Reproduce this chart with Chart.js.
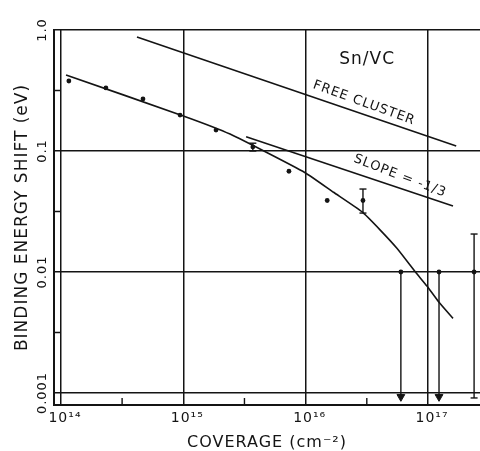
<!DOCTYPE html>
<html>
<head>
<meta charset="utf-8">
<script src="https://cdn.jsdelivr.net/npm/chart.js@4"></script>
<style>
  html, body { margin: 0; padding: 0; background: #fff; }
  #wrap { width: 480px; height: 451px; }
</style>
</head>
<body>
<div id="wrap"><canvas id="shiftChart"></canvas></div>
<script>
// measured points: coverage (cm^-2) vs binding energy shift (eV)
const coverage = [1.16e14, 2.33e14, 4.68e14, 9.4e14, 1.85e15, 3.7e15, 7.3e15, 1.5e16, 2.94e16, 6.0e16, 1.23e17, 2.38e17];
const shift    = [0.379, 0.332, 0.269, 0.198, 0.149, 0.108, 0.068, 0.039, 0.039, 0.01, 0.01, 0.01];

// error bars
const errCoverage = [3.7e15, 2.94e16, 2.38e17];
const errLow      = [0.100, 0.0307, 0.00091];
const errHigh     = [0.116, 0.0485, 0.0206];

// upper limits, arrows pointing down
const limitCoverage = [6.0e16, 1.23e17];
const limitFrom     = [0.01, 0.01];
const limitTo       = [0.00093, 0.00093];

// fitted curve
const fitCoverage = [1.10e14, 1.0e15, 2.41e15, 9.9e15, 1.69e16, 2.88e16, 4.07e16, 5.57e16, 7.86e16, 9.8e16, 1.22e17, 1.60e17];
const fitShift    = [0.425, 0.195, 0.138, 0.0662, 0.0456, 0.0315, 0.0222, 0.0157, 0.01005, 0.00766, 0.00568, 0.00414];

// free cluster line and slope -1/3 line
const freeCoverage  = [4.18e14, 1.70e17];
const freeShift     = [0.875, 0.110];
const slopeCoverage = [3.26e15, 1.60e17];
const slopeShift    = [0.131, 0.0351];

// axes
const xTicks = [1e14, 1e15, 1e16, 1e17];
const xTickLabels = ['10¹⁴', '10¹⁵', '10¹⁶', '10¹⁷'];
const xMinor = [3.16e14, 3.16e15, 3.16e16];
const yTicks = [0.001, 0.01, 0.1, 1];
const yTickLabels = ['0.001', '0.01', '0.1', '1.0'];
const yMinor = [0.316, 0.0316, 0.00316];

const ink = '#141414';
const family = '"DejaVu Sans", sans-serif';

// text written on the plot
const notes = [
  { text: 'Sn/VC', x: 3.18e16, y: 0.565, angle: 0, size: 17 },
  { text: 'FREE CLUSTER', x: 3.0e16, y: 0.249, angle: 20, size: 13 },
  { text: 'SLOPE = -1/3', x: 5.9e16, y: 0.0621, angle: 21, size: 13 }
];

const pts = (xs, ys) => xs.map((v, i) => ({ x: v, y: ys[i] }));

const datasets = [
  {
    data: pts(fitCoverage, fitShift),
    showLine: true, borderColor: ink, borderWidth: 1.6,
    pointRadius: 0, tension: 0.15
  },
  {
    data: pts(freeCoverage, freeShift),
    showLine: true, borderColor: ink, borderWidth: 1.6, pointRadius: 0
  },
  {
    data: pts(slopeCoverage, slopeShift),
    showLine: true, borderColor: ink, borderWidth: 1.6, pointRadius: 0
  },
  {
    data: pts(coverage, shift),
    showLine: false, pointRadius: 2.4, pointBackgroundColor: ink, pointBorderWidth: 0
  }
];

errCoverage.forEach((c, i) => {
  datasets.push({
    data: [{ x: c, y: errLow[i] }, { x: c, y: errHigh[i] }],
    showLine: true, borderColor: ink, borderWidth: 1.4,
    pointStyle: 'line', pointRadius: 3.5, pointBorderColor: ink, pointBorderWidth: 1.4
  });
});

limitCoverage.forEach((c, i) => {
  datasets.push({
    data: [{ x: c, y: limitFrom[i] }, { x: c, y: limitTo[i] }],
    showLine: true, borderColor: ink, borderWidth: 1.4,
    pointStyle: ['circle', 'triangle'], pointRadius: [0, 4.5], pointRotation: [0, 180],
    pointBackgroundColor: ink, pointBorderColor: ink, pointBorderWidth: 1
  });
});

const extras = {
  id: 'extras',
  beforeLayout(chart) { chart.ctx.letterSpacing = '1px'; },
  beforeDraw(chart) { chart.ctx.letterSpacing = '1px'; },
  afterDraw(chart) {
    const { ctx, chartArea, scales: { x, y } } = chart;
    ctx.save();
    ctx.strokeStyle = ink;
    ctx.lineWidth = 1.4;
    ctx.beginPath();
    xMinor.forEach(v => {
      const px = x.getPixelForValue(v);
      ctx.moveTo(px, chartArea.bottom);
      ctx.lineTo(px, chartArea.bottom - 7);
    });
    const inner = x.getPixelForValue(xTicks[0]);
    yMinor.forEach(v => {
      const py = y.getPixelForValue(v);
      ctx.moveTo(chartArea.left, py);
      ctx.lineTo(inner, py);
    });
    ctx.stroke();

    ctx.fillStyle = ink;
    ctx.textAlign = 'center';
    ctx.textBaseline = 'middle';
    ctx.letterSpacing = '1px';
    notes.forEach(n => {
      ctx.save();
      ctx.translate(x.getPixelForValue(n.x), y.getPixelForValue(n.y));
      ctx.rotate(n.angle * Math.PI / 180);
      ctx.font = n.size + 'px ' + family;
      ctx.fillText(n.text, 0, 0);
      ctx.restore();
    });
    ctx.restore();
  }
};

new Chart(document.getElementById('shiftChart'), {
  type: 'scatter',
  data: { datasets },
  plugins: [extras],
  options: {
    responsive: true,
    maintainAspectRatio: false,
    animation: false,
    layout: { autoPadding: false, padding: { top: 30, right: 0, bottom: 0, left: 0 } },
    plugins: { legend: { display: false }, tooltip: { enabled: false } },
    scales: {
      x: {
        type: 'logarithmic',
        min: 8.77e13,
        max: 2.66e17,
        afterBuildTicks: s => { s.ticks = xTicks.map(v => ({ value: v })); },
        afterFit: s => { s.height = 46; s.paddingLeft = 0; s.paddingRight = 0; },
        grid: { color: ink, lineWidth: 1.5, drawTicks: false },
        border: { color: ink, width: 2 },
        ticks: {
          callback: (v, i) => xTickLabels[i],
          autoSkip: false, maxRotation: 0, padding: 5, labelOffset: 4,
          color: ink, font: { family, size: 14 }
        },
        title: {
          display: true, text: 'COVERAGE (cm⁻²)', color: ink, padding: 0,
          font: { family, size: 16, lineHeight: 1 }
        }
      },
      y: {
        type: 'logarithmic',
        min: 7.96e-4,
        max: 1,
        afterBuildTicks: s => { s.ticks = yTicks.map(v => ({ value: v })); },
        afterFit: s => { s.width = 54; s.paddingTop = 0; s.paddingBottom = 0; },
        grid: { color: ink, lineWidth: 1.5, drawTicks: false },
        border: { color: ink, width: 2 },
        ticks: {
          callback: (v, i) => yTickLabels[i],
          autoSkip: false, minRotation: 90, maxRotation: 90,
          crossAlign: 'center', padding: -10,
          color: ink, font: { family, size: 13 }
        },
        title: {
          display: true, text: 'BINDING ENERGY SHIFT (eV)', color: ink,
          padding: { top: 12, bottom: 0 },
          font: { family, size: 17, lineHeight: 1.2 }
        }
      }
    }
  }
});
</script>
</body>
</html>
